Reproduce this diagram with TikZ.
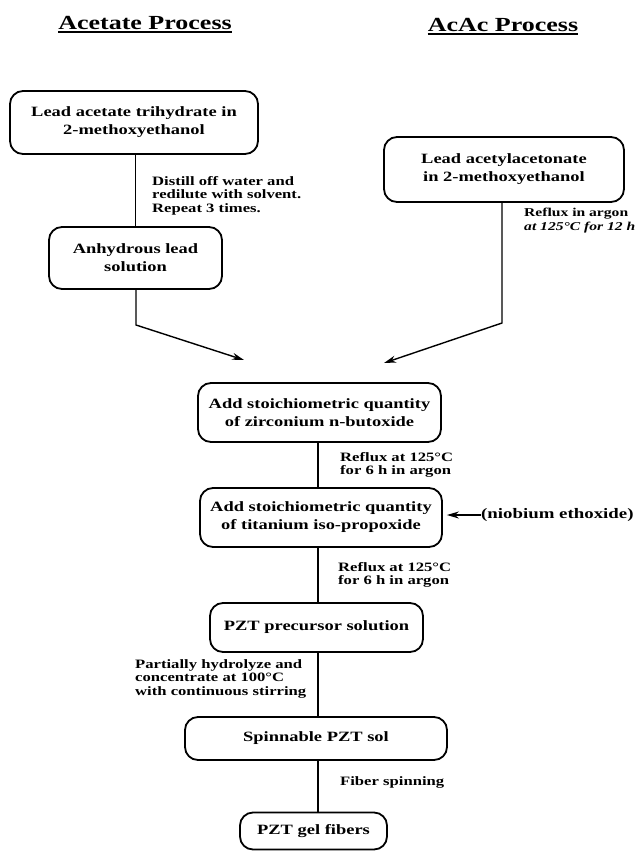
\documentclass[tikz,border=0pt]{standalone}
\usepackage{fontspec}
\setmainfont[FakeStretch=1.3]{Liberation Serif}
\usetikzlibrary{arrows.meta}
\begin{document}
\begin{tikzpicture}[x=1pt,y=-1pt,
  box/.style={draw, line width=1.8pt, rounded corners=13pt, align=center,
    font=\fontsize{14.2}{18}\selectfont\bfseries, inner sep=0pt},
  lbl/.style={align=left, font=\fontsize{12.8}{13.5}\selectfont\bfseries, inner sep=0pt},
  ttl/.style={font=\fontsize{20}{24}\selectfont\bfseries, inner sep=0pt},
  conn/.style={line width=1.4pt},
  arr/.style={conn, -{Stealth[length=12pt,width=7pt]}}]
\path[use as bounding box] (0,0) rectangle (642,852);

% titles
\node[ttl, anchor=base] (t1) at (145,29) {Acetate Process};
\node[ttl, anchor=base] (t2) at (503,31) {AcAc Process};
\draw[line width=1.5pt] ([yshift=-3pt]t1.base west) -- ([yshift=-3pt]t1.base east);
\draw[line width=1.5pt] ([yshift=-3pt]t2.base west) -- ([yshift=-3pt]t2.base east);

% boxes
\node[box, minimum width=248pt, minimum height=63pt] (b1) at (134,122.5) {Lead acetate trihydrate in\\2-methoxyethanol};
\node[box, minimum width=240pt, minimum height=65pt] (bA) at (504,169.5) {Lead acetylacetonate\\in 2-methoxyethanol};
\node[box, minimum width=173pt, minimum height=62pt] (b2) at (135.5,258) {Anhydrous lead\\solution};
\node[box, minimum width=243pt, minimum height=59pt] (b3) at (319.5,412.5) {Add stoichiometric quantity\\of zirconium n-butoxide};
\node[box, minimum width=242pt, minimum height=59pt] (b4) at (321,517.5) {Add stoichiometric quantity\\of titanium iso-propoxide};
\node[box, minimum width=213pt, minimum height=49pt] (b5) at (316.5,627.5) {PZT precursor solution};
\node[box, minimum width=262pt, minimum height=43pt] (b6) at (316,738.5) {Spinnable PZT sol};
\node[box, minimum width=147pt, minimum height=37pt] (b7) at (313.5,831) {PZT gel fibers};

% labels
\node[lbl, anchor=north west] (l1) at (152,176) {Distill off water and\\redilute with solvent.\\Repeat 3 times.};
\node[lbl, anchor=north west, font=\fontsize{12}{13.5}\selectfont\bfseries] (l2) at (524,208) {Reflux in argon\\{\itshape at 125°C for 12 h}};
\node[lbl, anchor=west] (l3) at (340,465) {Reflux at 125°C\\for 6 h in argon};
\node[lbl, anchor=west] (l4) at (338,575) {Reflux at 125°C\\for 6 h in argon};
\node[lbl, anchor=north west] (l5) at (135,659) {Partially hydrolyze and\\concentrate at 100°C\\with continuous stirring};
\node[lbl, anchor=west] (l6) at (340,782) {Fiber spinning};
\node[lbl, anchor=west, font=\fontsize{14.5}{16}\selectfont\bfseries] (nb) at (481,515) {(niobium ethoxide)};

% connectors
\coordinate (spine) at (318,0);
\coordinate (kL) at (136,325);
\coordinate (kR) at (502,323);
\coordinate (tipL) at (244,360);
\coordinate (tipR) at (384,363);
\draw[conn] (b2.north |- b1.south) -- (b2.north);
\draw[arr] (b2.south -| kL) -- (kL) -- (tipL);
\draw[arr] (bA.south -| kR) -- (kR) -- (tipR);
\draw[conn] (b3.south -| spine) -- (b4.north -| spine);
\draw[conn] (b4.south -| spine) -- (b5.north -| spine);
\draw[conn] (b5.south -| spine) -- (b6.north -| spine);
\draw[conn] (b6.south -| spine) -- (b7.north -| spine);
\draw[arr, shorten >=4pt] (nb.west) -- (b4.east |- nb.west);
\end{tikzpicture}
\end{document}
